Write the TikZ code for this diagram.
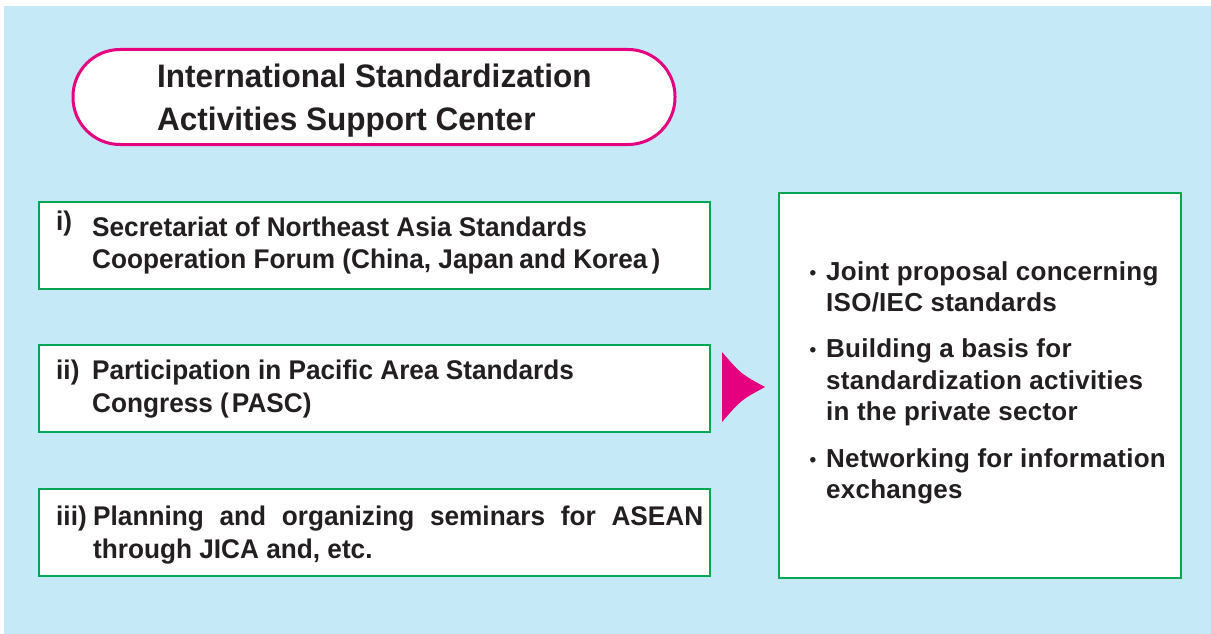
\documentclass[tikz,border=0pt]{standalone}
\usepackage{fontspec}
\setmainfont{Liberation Sans}
\newfontfamily\leftfont[FakeStretch=0.97]{Liberation Sans}
\newfontfamily\rightfont[LetterSpace=1]{Liberation Sans}
\definecolor{bgblue}{HTML}{C6E9F8}
\definecolor{pinkc}{HTML}{E4007F}
\definecolor{greenc}{HTML}{00A651}
\definecolor{textdark}{HTML}{231F20}
\tikzset{
  stadium/.style={draw=pinkc, line width=3pt, fill=white, rounded corners=47pt, inner sep=0pt},
  greenbox/.style={draw=greenc, line width=2.6pt, fill=white, inner sep=0pt},
  txt/.style={anchor=base west, inner sep=0pt, text=textdark},
  titletxt/.style={txt, font=\leftfont\bfseries\fontsize{32.5}{36}\selectfont},
  lefttxt/.style={txt, font=\leftfont\bfseries\fontsize{27}{30}\selectfont},
  righttxt/.style={txt, font=\rightfont\bfseries\fontsize{26}{30}\selectfont},
  bullettxt/.style={anchor=base, inner sep=0pt, text=textdark, font=\bfseries\fontsize{19}{20}\selectfont},
}
\begin{document}
\begin{tikzpicture}[x=1pt, y=-1pt]
\useasboundingbox (0,0) rectangle (1211,634);
\fill[bgblue] (4,6) rectangle (1211,634);

% title
\node[stadium, minimum width=602pt, minimum height=95pt] (center) at (374,97) {};
\node[titletxt] (t1) at (157,88) {International Standardization};
\node[titletxt] (t2) at (157,130) {Activities Support Center};

% left boxes
\node[greenbox, minimum width=671pt, minimum height=87pt] (boxi) at (374.5,245.5) {};
\node[greenbox, minimum width=671pt, minimum height=87pt] (boxii) at (374.5,388.5) {};
\node[greenbox, minimum width=671pt, minimum height=87pt] (boxiii) at (374.5,532.5) {};

\node[lefttxt] (ni) at (56,230) {i)};
\node[lefttxt] (ia) at (92,236) {Secretariat of Northeast Asia Standards};
\node[lefttxt] (ib) at (92,268) {Cooperation Forum (China, Japan\kern-2pt{} and Korea\kern4pt)};

\node[lefttxt] (nii) at (56,379) {ii)};
\node[lefttxt] (iia) at (92,379) {Participation in Pacific Area Standards};
\node[lefttxt] (iib) at (92,412) {Congress (\kern3pt PASC)};

\node[lefttxt] (niii) at (56,525) {iii)};
\node[lefttxt] (iiia) at (93,525) {\makebox[610pt][s]{Planning and organizing seminars for ASEAN}};
\node[lefttxt] (iiib) at (93,558) {through JICA and, etc.};

% arrow head
\fill[pinkc] (722,352) .. controls (741,374) .. (765,387) .. controls (741,400) .. (722,422) -- cycle;

% right box
\node[greenbox, minimum width=402pt, minimum height=385pt] (result) at (980,385.5) {};
\node[bullettxt] (b1) at (813,279) {•};
\node[righttxt] (r1a) at (826,280) {Joint proposal concerning};
\node[righttxt] (r1b) at (826,311) {ISO/IEC standards};
\node[bullettxt] (b2) at (813,356) {•};
\node[righttxt] (r2a) at (826,357) {Building a basis for};
\node[righttxt] (r2b) at (826,389) {standardization activities};
\node[righttxt] (r2c) at (826,420) {in the private sector};
\node[bullettxt] (b3) at (813,466) {•};
\node[righttxt] (r3a) at (826,467) {Networking for information};
\node[righttxt] (r3b) at (826,498) {exchanges};
\end{tikzpicture}
\end{document}
